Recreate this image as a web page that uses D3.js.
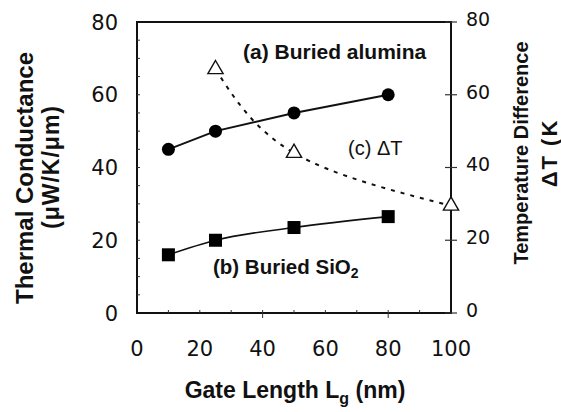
<!DOCTYPE html>
<html>
<head>
<meta charset="utf-8">
<script src="https://cdn.jsdelivr.net/npm/d3@7"></script>
<style>
  body { margin: 0; background: #fff; }
  svg { display: block; }
</style>
</head>
<body>
<div id="chart"></div>
<script>
// data
const gateLength = [10, 25, 50, 80];
const alumina = [45, 50, 55, 60];
const sio2 = [16, 20, 23.5, 26.5];
const dtLength = [25, 50, 100];
const deltaT = [67, 44, 29.5];
const xTicks = [0, 20, 40, 60, 80, 100];
const yTicks = [0, 20, 40, 60, 80];

const width = 561, height = 412;
const plotL = 137, plotR = 451, plotT = 22, plotB = 313;

const svg = d3.select('#chart').append('svg')
    .attr('width', width)
    .attr('height', height);

const x = d3.scaleLinear().domain([0, 100]).range([plotL, plotR]);
const y = d3.scaleLinear().domain([0, 80]).range([plotB, plotT]);
const yR = d3.scaleLinear().domain([0, 80]).range([plotB, plotT]);

const tickFont = '"DejaVu Sans", sans-serif';
const titleFont = '"Liberation Sans", Arial, sans-serif';

// frame
svg.append('rect')
    .attr('x', plotL).attr('y', plotT)
    .attr('width', plotR - plotL).attr('height', plotB - plotT)
    .attr('fill', 'none').attr('stroke', '#111').attr('stroke-width', 2);

// minor ticks, drawn inside
const g = svg.append('g').attr('stroke', '#333').attr('stroke-width', 1);
g.selectAll('.ly').data(d3.range(5, 80, 5)).enter().append('line')
    .attr('x1', plotL).attr('x2', plotL + 3)
    .attr('y1', d => y(d)).attr('y2', d => y(d));
g.selectAll('.bx').data(d3.range(10, 100, 10)).enter().append('line')
    .attr('x1', d => x(d)).attr('x2', d => x(d))
    .attr('y1', plotB).attr('y2', plotB - 3);
g.selectAll('.bxm').data([40, 80]).enter().append('line')
    .attr('x1', d => x(d)).attr('x2', d => x(d))
    .attr('y1', plotB).attr('y2', plotB + 5);
// right axis ticks cross the line
g.selectAll('.ry').data(yTicks).enter().append('line')
    .attr('x1', plotR - 6).attr('x2', plotR + 6)
    .attr('y1', d => yR(d)).attr('y2', d => yR(d))
    .attr('stroke-width', 1.2);

// tick labels
svg.append('g').selectAll('text').data(yTicks).enter().append('text')
    .attr('x', plotL - 19).attr('y', d => y(d)).attr('dy', '0.36em')
    .attr('text-anchor', 'end')
    .style('font', `21px ${tickFont}`).attr('fill', '#111')
    .text(d => d);
svg.append('g').selectAll('text').data(yTicks).enter().append('text')
    .attr('x', plotR + 15).attr('y', d => yR(d) - 3).attr('dy', '0.36em')
    .style('font', `19px ${tickFont}`).attr('fill', '#111')
    .text(d => d);
svg.append('g').selectAll('text').data(xTicks).enter().append('text')
    .attr('x', d => x(d)).attr('y', 356)
    .attr('text-anchor', 'middle')
    .style('font', `21px ${tickFont}`).attr('fill', '#111')
    .text(d => d);

// axis titles
const xt = svg.append('text')
    .attr('x', 295).attr('y', 398).attr('text-anchor', 'middle')
    .style('font', `bold 23px ${titleFont}`).attr('fill', '#111');
xt.append('tspan').text('Gate Length L');
xt.append('tspan').attr('dy', 6).style('font-size', '16px').text('g');
xt.append('tspan').attr('dy', -6).text(' (nm)');

svg.append('text')
    .attr('transform', 'translate(33,178) rotate(-90)')
    .attr('text-anchor', 'middle')
    .style('font', `bold 24px ${titleFont}`).attr('fill', '#111')
    .text('Thermal Conductance');
svg.append('text')
    .attr('transform', 'translate(59,167) rotate(-90)')
    .attr('text-anchor', 'middle')
    .style('font', `bold 23px ${titleFont}`).attr('fill', '#111')
    .style('letter-spacing', '1px')
    .text('(μW/K/μm)');
svg.append('text')
    .attr('transform', 'translate(528,153) rotate(-90)')
    .attr('text-anchor', 'middle')
    .style('font', `bold 20px ${titleFont}`).attr('fill', '#111')
    .text('Temperature Difference');
svg.append('text')
    .attr('transform', 'translate(557,153) rotate(-90)')
    .attr('text-anchor', 'middle')
    .style('font', `bold 22px ${titleFont}`).attr('fill', '#111')
    .style('letter-spacing', '2px')
    .text('ΔT (K');

// series lines
const alLine = d3.line().x((d, i) => x(gateLength[i])).y(d => y(d));
svg.append('path').datum(alumina)
    .attr('d', alLine).attr('fill', 'none')
    .attr('stroke', '#111').attr('stroke-width', 2);

const siLine = d3.line().x((d, i) => x(gateLength[i])).y(d => y(d)).curve(d3.curveMonotoneX);
svg.append('path').datum(sio2)
    .attr('d', siLine).attr('fill', 'none')
    .attr('stroke', '#111').attr('stroke-width', 1.6);

const dtLine = d3.line().x((d, i) => x(dtLength[i])).y(d => yR(d)).curve(d3.curveNatural);
svg.append('path').datum(deltaT)
    .attr('d', dtLine).attr('fill', 'none')
    .attr('stroke', '#111').attr('stroke-width', 2)
    .attr('stroke-dasharray', '4,6');

// markers
svg.append('g').selectAll('circle').data(alumina).enter().append('circle')
    .attr('cx', (d, i) => x(gateLength[i])).attr('cy', d => y(d))
    .attr('r', 6.5).attr('fill', '#000');

svg.append('g').selectAll('rect').data(sio2).enter().append('rect')
    .attr('x', (d, i) => x(gateLength[i]) - 6.5).attr('y', d => y(d) - 6.5)
    .attr('width', 13).attr('height', 13).attr('fill', '#000');

const tri = d3.symbol().type(d3.symbolTriangle).size(100);
svg.append('g').selectAll('path').data(deltaT).enter().append('path')
    .attr('d', tri)
    .attr('transform', (d, i) => `translate(${x(dtLength[i])},${yR(d)})`)
    .attr('fill', '#fff').attr('stroke', '#111').attr('stroke-width', 1.4);

// series labels
svg.append('text').attr('x', 243).attr('y', 59)
    .style('font', `bold 21px ${titleFont}`).attr('fill', '#111')
    .text('(a) Buried alumina');
const bl = svg.append('text').attr('x', 213).attr('y', 274)
    .style('font', `bold 20.5px ${titleFont}`).attr('fill', '#111');
bl.append('tspan').text('(b) Buried SiO');
bl.append('tspan').attr('dy', 4).style('font-size', '14px').text('2');
svg.append('text').attr('x', 348).attr('y', 155)
    .style('font', `20px ${titleFont}`).attr('fill', '#111')
    .text('(c) ΔT');
</script>
</body>
</html>
